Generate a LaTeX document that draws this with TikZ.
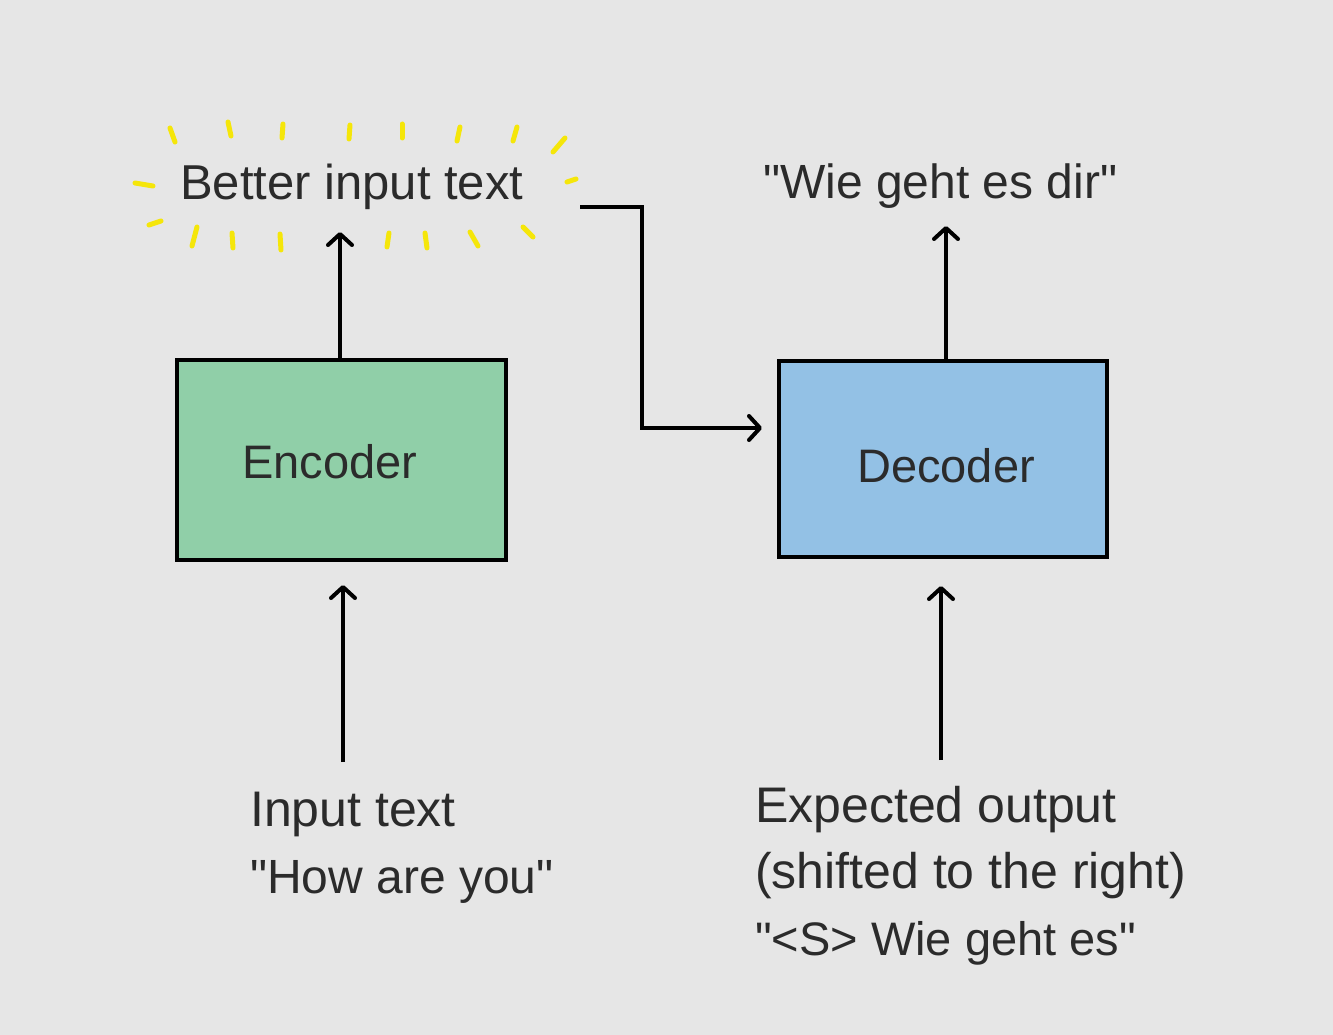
\documentclass[tikz,border=0pt]{standalone}
\usepackage{fontspec}
\setmainfont{Liberation Sans}
\usetikzlibrary{arrows.meta}
\definecolor{bg}{HTML}{E6E6E6}
\definecolor{encfill}{HTML}{90CFA8}
\definecolor{decfill}{HTML}{93C1E5}
\definecolor{txt}{HTML}{2B2B2B}
\definecolor{ray}{HTML}{F5E60A}
\newcommand{\dq}{\textquotedbl}
\begin{document}
\begin{tikzpicture}[x=1pt,y=-1pt,
  box/.style={draw=black,line width=4.5pt,inner sep=0pt,minimum width=329pt,minimum height=200pt},
  lbl/.style={text=txt,inner sep=0pt,font=\fontsize{50}{60}\selectfont},
  arr/.style={line width=4pt,-{Straight Barb[length=11pt,width=24pt,line cap=round,line join=round]}},
  rayline/.style={draw=ray,line width=5pt,line cap=round}]
\fill[bg] (0,0) rectangle (1333,1035);
\useasboundingbox (0,0) rectangle (1333,1035);
% boxes
\node[box,fill=encfill] (enc) at (341.5,460) {};
\node[box,fill=decfill,minimum width=328pt,minimum height=196pt] (dec) at (943,459) {};
\node[lbl,anchor=base,font=\fontsize{47}{56}\selectfont] (enct) at (330,478) {Encoder};
\node[lbl,anchor=base,font=\fontsize{47}{56}\selectfont] (dect) at (946,482) {Decoder};
% texts
\node[lbl,anchor=base west,font=\fontsize{49}{60}\selectfont] (better) at (180,200) {Better input text};
\node[lbl,anchor=base west,font=\fontsize{48}{60}\selectfont] (wie) at (763,199) {\dq Wie geht es dir\dq};
\node[lbl,anchor=base west] (in1) at (250,826) {Input text};
\node[lbl,anchor=base west,font=\fontsize{48}{60}\selectfont] (in2) at (250,893) {\dq How are you\dq};
\node[lbl,anchor=base west] (ex1) at (755,822) {Expected output};
\node[lbl,anchor=base west] (ex2) at (755,888) {(shifted to the right)};
\node[lbl,anchor=base west,font=\fontsize{47}{60}\selectfont] (ex3) at (755,955) {\dq <S> Wie geht es\dq};
% arrow coordinates
\coordinate (encup) at (340,232);
\coordinate (encin) at (343,762);
\coordinate (encbot) at (343,585);
\coordinate (decup) at (946,226);
\coordinate (decin) at (941,760);
\coordinate (decbot) at (941,586);
\coordinate (elstart) at (580,207);
\coordinate (elend) at (762,428);
% arrows
\draw[arr] (enc.north -| encup) -- (encup);
\draw[arr] (encin) -- (encbot);
\draw[arr] (dec.north -| decup) -- (decup);
\draw[arr] (decin) -- (decbot);
\draw[arr,line join=miter] (elstart) -- (642,207) -- (642,428) -- (elend);
% yellow rays
\foreach \a/\b/\c/\d in {170/128/175/142, 228/122/231/136, 283/124/282/138, 350/125/349/139,
  402/124/402/138, 460/127/457/141, 517/127/513/141, 565/138/553/152,
  135/183/153/186, 567/182/576/179,
  149/225/161/221, 197/227/192/246, 232/233/233/248, 280/234/281/250,
  389/233/387/247, 425/233/427/248, 470/232/478/246, 523/227/533/237}
  \draw[rayline] (\a,\b) -- (\c,\d);
\end{tikzpicture}
\end{document}
